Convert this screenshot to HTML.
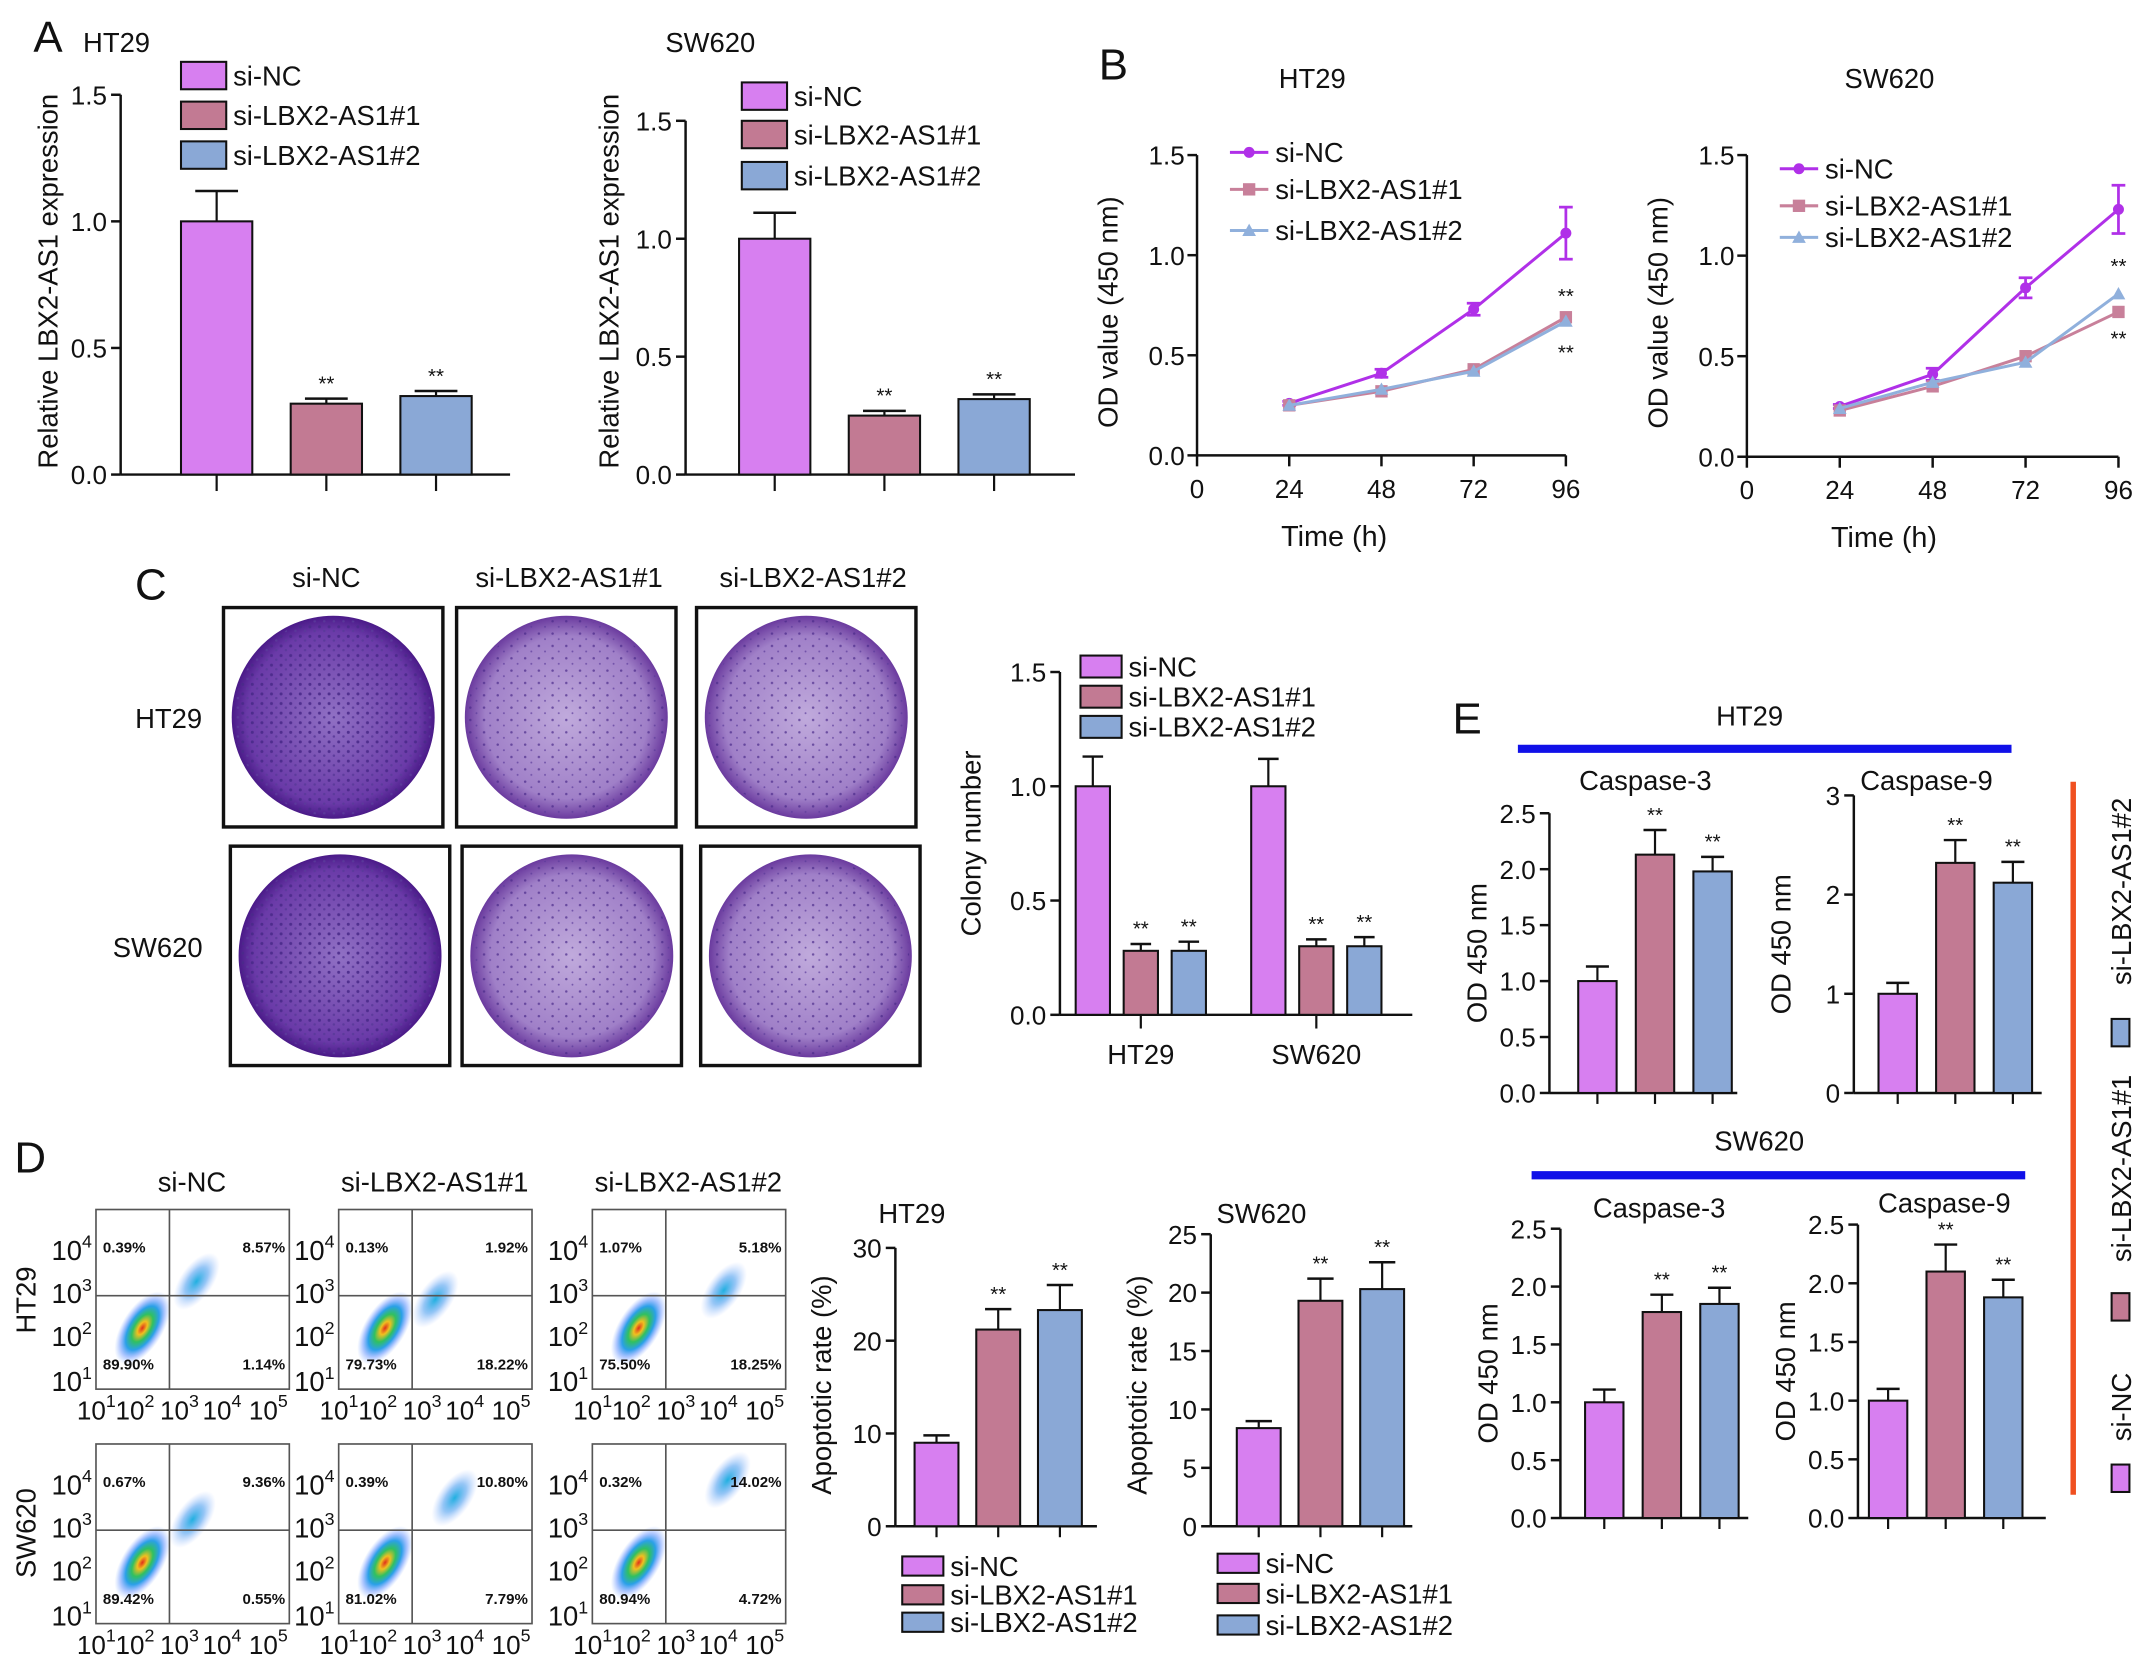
<!DOCTYPE html>
<html><head><meta charset="utf-8"><style>
html,body{margin:0;padding:0;background:#fff}
svg{display:block}
text{font-family:"Liberation Sans",Arial,sans-serif;fill:#111}
</style></head><body>
<svg id="fig" width="2150" height="1669" viewBox="0 0 1568 1217" xmlns="http://www.w3.org/2000/svg">
<defs>
<radialGradient id="dens" cx="50%" cy="50%" r="50%">
<stop offset="0" stop-color="#e0301a"/><stop offset="0.18" stop-color="#f0c020"/><stop offset="0.38" stop-color="#30c060"/><stop offset="0.6" stop-color="#2aa0e8"/><stop offset="0.8" stop-color="#6090ff" stop-opacity="0.5"/><stop offset="1" stop-color="#8ab0ff" stop-opacity="0"/>
</radialGradient>
<radialGradient id="dens2" cx="50%" cy="50%" r="50%">
<stop offset="0" stop-color="#20b0e0"/><stop offset="0.5" stop-color="#50a0f0" stop-opacity="0.6"/><stop offset="1" stop-color="#9ab8ff" stop-opacity="0"/>
</radialGradient>
<radialGradient id="plate" cx="50%" cy="50%" r="50%">
<stop offset="0" stop-color="#c0aadc"/><stop offset="0.8" stop-color="#a080c8"/><stop offset="1" stop-color="#6a3a9e"/>
</radialGradient>
<radialGradient id="plateD" cx="50%" cy="50%" r="50%">
<stop offset="0" stop-color="#9070c4"/><stop offset="0.85" stop-color="#6a3aa8"/><stop offset="1" stop-color="#4a1a88"/>
</radialGradient>
<pattern id="dots" width="7" height="7" patternUnits="userSpaceOnUse"><circle cx="2" cy="2" r="1.1" fill="#4a2a8a"/><circle cx="5.5" cy="5" r="0.9" fill="#5a3a9a"/></pattern>
<pattern id="dotsS" width="10" height="9" patternUnits="userSpaceOnUse"><circle cx="3" cy="3" r="0.9" fill="#4a2a8a"/><circle cx="7.5" cy="7" r="0.7" fill="#5a3a9a"/></pattern>
</defs>
<g id="root"></g>
</svg>
<script>
// ---------- data ----------
const groups = ["si-NC","si-LBX2-AS1#1","si-LBX2-AS1#2"];
const aHT29Vals = [1.0,0.28,0.31];
const aHT29Errs = [0.12,0.02,0.02];
const aSWVals = [1.0,0.25,0.32];
const aSWErrs = [0.11,0.02,0.02];
const timePoints = [24,48,72,96];
const bHTNC = [0.26,0.41,0.73,1.11];
const bHTNCErr = [0.01,0.02,0.03,0.13];
const bHT1 = [0.25,0.32,0.43,0.69];
const bHT2 = [0.25,0.33,0.42,0.67];
const bSWNC = [0.25,0.41,0.84,1.23];
const bSWNCErr = [0.01,0.03,0.05,0.12];
const bSW1 = [0.23,0.35,0.50,0.72];
const bSW2 = [0.24,0.37,0.47,0.81];
const colonyCats = ["HT29","SW620"];
const colonyHT = [1.0,0.28,0.28];
const colonyHTErr = [0.13,0.03,0.04];
const colonySW = [1.0,0.30,0.30];
const colonySWErr = [0.12,0.03,0.04];
const apoHT = [9.0,21.2,23.3];
const apoHTErr = [0.8,2.2,2.7];
const apoSW = [8.4,19.3,20.3];
const apoSWErr = [0.6,1.9,2.3];
const c3HT = [1.0,2.13,1.98];
const c3HTErr = [0.13,0.22,0.13];
const c9HT = [1.0,2.32,2.12];
const c9HTErr = [0.11,0.23,0.21];
const c3SW = [1.0,1.78,1.85];
const c3SWErr = [0.11,0.15,0.14];
const c9SW = [1.0,2.10,1.88];
const c9SWErr = [0.1,0.23,0.15];
const flowHT = [["0.39%","8.57%","89.90%","1.14%"],["0.13%","1.92%","79.73%","18.22%"],["1.07%","5.18%","75.50%","18.25%"]];
const flowSW = [["0.67%","9.36%","89.42%","0.55%"],["0.39%","10.80%","81.02%","7.79%"],["0.32%","14.02%","80.94%","4.72%"]];

const FILL = ["#d77ff0","#c27a93","#8aa8d6"];
const LINEC = ["#b030e8","#c8809a","#90b0dc"];
const NS = "http://www.w3.org/2000/svg";
const root = document.getElementById("root");
function el(tag, attrs, parent, txt){
  const e = document.createElementNS(NS, tag);
  for (const k in attrs) e.setAttribute(k, attrs[k]);
  if (txt !== undefined) e.textContent = txt;
  (parent||root).appendChild(e);
  return e;
}
function grp(name){
  const g = el("g", {});
  
  
  return g;
}
function txt(g, x, y, s, size, anchor, name, rot){
  const t = el("text", {x:x, y:y, "font-size":size, "text-anchor":anchor||"middle"}, g, s);
  if (rot) t.setAttribute("transform", `rotate(${rot} ${x} ${y})`);
  
  
  return t;
}

function barChart(o){
  const g = grp(o.name);
  const sy = v => o.y0 - (v / o.max) * (o.y0 - o.yTop);
  el("line", {x1:o.ax, y1:o.yTop, x2:o.ax, y2:o.y0, stroke:"#111","stroke-width":1.8}, g);
  el("line", {x1:o.ax, y1:o.y0, x2:o.xEnd, y2:o.y0, stroke:"#111","stroke-width":1.8}, g);
  o.ticks.forEach((t,i)=>{
    const y = sy(t);
    el("line",{x1:o.ax-7,y1:y,x2:o.ax,y2:y,stroke:"#111","stroke-width":1.8},g);
    txt(g, o.ax-10, y+7, o.tickLabels[i], o.fs||19, "end", "y-tick-label");
  });
  o.series.forEach((vals, si)=>{
    vals.forEach((v,i)=>{
      const cx = o.cx(si,i);
      const yv = sy(v), ye = sy(v + o.errs[si][i]);
      el("line",{x1:cx,y1:yv,x2:cx,y2:ye,stroke:"#111","stroke-width":1.6},g);
      el("line",{x1:cx-o.bw*0.3,y1:ye,x2:cx+o.bw*0.3,y2:ye,stroke:"#111","stroke-width":1.8},g);
      const r = el("rect",{x:cx-o.bw/2,y:yv,width:o.bw,height:o.y0-yv,fill:FILL[i],stroke:"#111","stroke-width":1.5},g);
      
      
      if (i>0) txt(g, cx, ye-6, "**", 15, "middle", "significance-mark");
      if (o.catTicks) el("line",{x1:cx,y1:o.y0,x2:cx,y2:o.y0+o.catTicks,stroke:"#111","stroke-width":1.6},g);
    });
  });
  return {g, sy};
}
function legend(g, x, ys, fs, bw, bh){
  groups.forEach((n,i)=>{
    const lg = el("g",{},g);
    
    
    el("rect",{x:x,y:ys[i]-bh/2,width:bw,height:bh,fill:FILL[i],stroke:"#111","stroke-width":1.5},lg);
    txt(lg, x+bw+5, ys[i]+fs*0.36, n, fs, "start", "legend-label");
  });
}

// ---------- Panel A ----------
(function(){
  const P = grp("panel-a");
  txt(P, 35, 38, "A", 32, "middle", "panel-letter-a");
  let c = barChart({name:"chart-a-ht29", ax:88, y0:346, yTop:69, max:1.5, xEnd:372,
    ticks:[0,0.5,1,1.5], tickLabels:["0.0","0.5","1.0","1.5"], series:[aHT29Vals], errs:[aHT29Errs],
    bw:52, cx:(s,i)=>158+i*80, catTicks:12});
  P.appendChild(c.g);
  txt(c.g, 85, 38, "HT29", 20, "middle", "chart-title");
  txt(c.g, 42, 205, "Relative LBX2-AS1 expression", 20, "middle", "y-axis-title", -90);
  legend(c.g, 132, [55,84,113], 20, 33, 20);
  c = barChart({name:"chart-a-sw620", ax:500, y0:346, yTop:88, max:1.5, xEnd:784,
    ticks:[0,0.5,1,1.5], tickLabels:["0.0","0.5","1.0","1.5"], series:[aSWVals], errs:[aSWErrs],
    bw:52, cx:(s,i)=>565+i*80, catTicks:12});
  P.appendChild(c.g);
  txt(c.g, 518, 38, "SW620", 20, "middle", "chart-title");
  txt(c.g, 451, 205, "Relative LBX2-AS1 expression", 20, "middle", "y-axis-title", -90);
  legend(c.g, 541, [70,98,128], 20, 33, 20);
})();

// ---------- Panel B ----------
function lineChart(name, ax, y0, yTop, xEnd, seriesArr, ncErr, title, titleX, legYs, starsY){
  const g = grp(name);
  const sx = t => ax + t/96*(xEnd-ax);
  const sy = v => y0 - v/1.5*(y0-yTop);
  el("line",{x1:ax,y1:yTop,x2:ax,y2:y0,stroke:"#111","stroke-width":1.8},g);
  el("line",{x1:ax,y1:y0,x2:xEnd,y2:y0,stroke:"#111","stroke-width":1.8},g);
  [0,0.5,1,1.5].forEach((t,i)=>{
    el("line",{x1:ax-7,y1:sy(t),x2:ax,y2:sy(t),stroke:"#111","stroke-width":1.8},g);
    txt(g, ax-9, sy(t)+7, ["0.0","0.5","1.0","1.5"][i], 19, "end", "y-tick-label");
  });
  [0].concat(timePoints).forEach(t=>{
    el("line",{x1:sx(t),y1:y0,x2:sx(t),y2:y0+8,stroke:"#111","stroke-width":1.8},g);
    txt(g, sx(t), y0+31, String(t), 19, "middle", "x-tick-label");
  });
  txt(g, ax+100, y0+66, "Time (h)", 21, "middle", "x-axis-title");
  txt(g, ax-58, (y0+yTop)/2+5, "OD value (450 nm)", 20, "middle", "y-axis-title", -90);
  txt(g, titleX, 64, title, 20, "middle", "chart-title");
  seriesArr.forEach((vals,si)=>{
    const pts = vals.map((v,i)=>sx(timePoints[i])+","+sy(v)).join(" ");
    const pl = el("polyline",{points:pts,fill:"none",stroke:LINEC[si],"stroke-width":2.2},g);
    
    
    vals.forEach((v,i)=>{
      const x=sx(timePoints[i]), y=sy(v);
      if (si===0){
        const e=ncErr[i];
        el("line",{x1:x,y1:sy(v-e),x2:x,y2:sy(v+e),stroke:LINEC[0],"stroke-width":2},g);
        el("line",{x1:x-5,y1:sy(v-e),x2:x+5,y2:sy(v-e),stroke:LINEC[0],"stroke-width":2},g);
        el("line",{x1:x-5,y1:sy(v+e),x2:x+5,y2:sy(v+e),stroke:LINEC[0],"stroke-width":2},g);
        el("circle",{cx:x,cy:y,r:4,fill:LINEC[0]},g);
      } else if (si===1) el("rect",{x:x-4.5,y:y-4.5,width:9,height:9,fill:LINEC[1]},g);
      else el("polygon",{points:`${x},${y-5} ${x-5},${y+4} ${x+5},${y+4}`,fill:LINEC[2]},g);
    });
  });
  txt(g, xEnd, starsY[0], "**", 15, "middle", "significance-mark");
  txt(g, xEnd, starsY[1], "**", 15, "middle", "significance-mark");
  groups.forEach((n,i)=>{
    const x=ax+24, y=legYs[i];
    el("line",{x1:x,y1:y,x2:x+28,y2:y,stroke:LINEC[i],"stroke-width":2.2},g);
    if(i===0) el("circle",{cx:x+14,cy:y,r:4,fill:LINEC[0]},g);
    else if(i===1) el("rect",{x:x+9.5,y:y-4.5,width:9,height:9,fill:LINEC[1]},g);
    else el("polygon",{points:`${x+14},${y-5} ${x+9},${y+4} ${x+19},${y+4}`,fill:LINEC[2]},g);
    txt(g, x+33, y+7, n, 20, "start", "legend-label-"+n);
  });
  return g;
}
(function(){
  const P = grp("panel-b");
  txt(P, 812, 58, "B", 32, "middle", "panel-letter-b");
  P.appendChild(lineChart("chart-b-ht29", 873, 332, 113, 1142, [bHTNC,bHT1,bHT2], bHTNCErr, "HT29", 957, [111,138,168], [221,262]));
  P.appendChild(lineChart("chart-b-sw620", 1274, 333, 113, 1545, [bSWNC,bSW1,bSW2], bSWNCErr, "SW620", 1378, [123,150,173], [199,252]));
})();

// ---------- Panel C ----------
(function(){
  const P = grp("panel-c");
  txt(P, 110, 437, "C", 32, "middle", "panel-letter-c");
  const boxes = [[163,443],[333,443],[508,443],[168,617],[337,617],[511,617]];
  ["si-NC","si-LBX2-AS1#1","si-LBX2-AS1#2"].forEach((n,i)=>txt(P, [238,415,593][i], 428, n, 20, "middle", "column-label"));
  txt(P, 123, 531, "HT29", 20, "middle", "row-label");
  txt(P, 115, 698, "SW620", 20, "middle", "row-label");
  boxes.forEach((b,i)=>{
    const g = el("g",{},P);
    
    
    el("rect",{x:b[0],y:b[1],width:160,height:160,fill:"#fff",stroke:"#111","stroke-width":2.5},g);
    const dark = (i%3===0);
    el("circle",{cx:b[0]+80,cy:b[1]+80,r:74,fill:dark?"url(#plateD)":"url(#plate)"},g);
    el("circle",{cx:b[0]+80,cy:b[1]+80,r:72,fill:dark?"url(#dots)":"url(#dotsS)",opacity:dark?0.9:0.7},g);
  });
  const c = barChart({name:"chart-c-colony", ax:773, y0:740, yTop:490, max:1.5, xEnd:1030,
    ticks:[0,0.5,1,1.5], tickLabels:["0.0","0.5","1.0","1.5"], series:[colonyHT,colonySW], errs:[colonyHTErr,colonySWErr],
    bw:25, cx:(s,i)=>797+s*128+i*35, catNames:colonyCats});
  P.appendChild(c.g);
  colonyCats.forEach((n,i)=>{
    el("line",{x1:832+i*128,y1:740,x2:832+i*128,y2:750,stroke:"#111","stroke-width":1.6},c.g);
    txt(c.g, 832+i*128, 776, n, 20, "middle", "x-tick-label");
  });
  txt(c.g, 715, 615, "Colony number", 20, "middle", "y-axis-title", -90);
  legend(c.g, 788, [486,508,530], 20, 30, 16);
})();

// ---------- Panel D ----------
(function(){
  const P = grp("panel-d");
  txt(P, 22, 855, "D", 32, "middle", "panel-letter-d");
  const cols = [70,247,432];
  ["si-NC","si-LBX2-AS1#1","si-LBX2-AS1#2"].forEach((n,i)=>txt(P, cols[i]+70, 869, n, 20, "middle", "column-label"));
  txt(P, 26, 948, "HT29", 20, "middle", "row-label", -90);
  txt(P, 26, 1118, "SW620", 20, "middle", "row-label", -90);
  const rows = [[882,1013,flowHT],[1053,1184,flowSW]];
  rows.forEach((r,ri)=>{
    cols.forEach((x0,ci)=>{
      const g = el("g",{},P);
      
      
      const y0=r[0], y1=r[1], w=141, h=y1-y0;
      el("rect",{x:x0,y:y0,width:w,height:h,fill:"#fff",stroke:"#555","stroke-width":1.2},g);
      const mx = x0+w*0.24, my = y0+h*0.66;
      el("ellipse",{cx:mx,cy:my,rx:30,ry:15,fill:"url(#dens)",transform:`rotate(-58 ${mx} ${my})`},g);
      let sx, sy2;
      if (ri===0){ sx = ci===0?0.52:ci===1?0.5:0.68; sy2 = ci===0?0.4:ci===1?0.5:0.45; }
      else { sx = ci===0?0.5:ci===1?0.6:0.7; sy2 = ci===0?0.42:ci===1?0.3:0.2; }
      const ex=x0+w*sx, ey=y0+h*sy2;
      el("ellipse",{cx:ex,cy:ey,rx:24,ry:12,fill:"url(#dens2)",transform:`rotate(-55 ${ex} ${ey})`},g);
      const vx=x0+w*0.38, hy=y0+h*0.48;
      el("line",{x1:vx,y1:y0,x2:vx,y2:y1,stroke:"#555","stroke-width":1.2},g);
      el("line",{x1:x0,y1:hy,x2:x0+w,y2:hy,stroke:"#555","stroke-width":1.2},g);
      const q = r[2][ci];
      const pt = [[x0+5,y0+h*0.24,"start"],[x0+w-3,y0+h*0.24,"end"],[x0+5,y0+h*0.89,"start"],[x0+w-3,y0+h*0.89,"end"]];
      pt.forEach((p,k)=>{ const t=txt(g,p[0],p[1],q[k],11,p[2],"quadrant-percent"); t.setAttribute("font-weight","bold"); });
      [0.22,0.46,0.7,0.95].forEach((f,k)=>{
        const t = txt(g, x0-3, y0+h*f+8, "10", 20, "end", "y-tick-label");
        el("tspan",{dy:-9,"font-size":13},t,String(4-k));
      });
      [0.03,0.23,0.46,0.68,0.92].forEach((f,k)=>{
        const t = txt(g, x0+w*f-4, y1+22, "10", 19, "middle", "x-tick-label");
        el("tspan",{dy:-9,"font-size":13},t,String(k+1));
      });
    });
  });
  const h = barChart({name:"chart-d-apoptosis-ht29", ax:653, y0:1113, yTop:910, max:30, xEnd:800,
    ticks:[0,10,20,30], tickLabels:["0","10","20","30"], series:[apoHT], errs:[apoHTErr],
    bw:32, cx:(s,i)=>683+i*45, catTicks:8});
  P.appendChild(h.g);
  txt(h.g, 665, 892, "HT29", 20, "middle", "chart-title");
  txt(h.g, 606, 1010, "Apoptotic rate (%)", 20, "middle", "y-axis-title", -90);
  legend(h.g, 658, [1142,1163,1183], 20, 30, 14);
  const s = barChart({name:"chart-d-apoptosis-sw620", ax:883, y0:1113, yTop:900, max:25, xEnd:1030,
    ticks:[0,5,10,15,20,25], tickLabels:["0","5","10","15","20","25"], series:[apoSW], errs:[apoSWErr],
    bw:32, cx:(s,i)=>918+i*45, catTicks:8});
  P.appendChild(s.g);
  txt(s.g, 920, 892, "SW620", 20, "middle", "chart-title");
  txt(s.g, 836, 1010, "Apoptotic rate (%)", 20, "middle", "y-axis-title", -90);
  legend(s.g, 888, [1140,1162,1185], 20, 30, 14);
})();

// ---------- Panel E ----------
(function(){
  const P = grp("panel-e");
  txt(P, 1070, 535, "E", 32, "middle", "panel-letter-e");
  txt(P, 1276, 529, "HT29", 20, "middle", "group-title");
  el("line",{x1:1107,y1:546,x2:1467,y2:546,stroke:"#1010e8","stroke-width":6},P);
  txt(P, 1283, 839, "SW620", 20, "middle", "group-title");
  el("line",{x1:1117,y1:857,x2:1477,y2:857,stroke:"#1010e8","stroke-width":6},P);
  const cfg = [
    {n:"chart-e-ht29-caspase3", ax:1130, y0:797, yTop:593, max:2.5, ticks:[0,0.5,1,1.5,2,2.5], tl:["0.0","0.5","1.0","1.5","2.0","2.5"], v:c3HT, e:c3HTErr, c0:1165, t:"Caspase-3", tx:1200, ty:576},
    {n:"chart-e-ht29-caspase9", ax:1352, y0:797, yTop:580, max:3, ticks:[0,1,2,3], tl:["0","1","2","3"], v:c9HT, e:c9HTErr, c0:1384, t:"Caspase-9", tx:1405, ty:576},
    {n:"chart-e-sw620-caspase3", ax:1138, y0:1107, yTop:896, max:2.5, ticks:[0,0.5,1,1.5,2,2.5], tl:["0.0","0.5","1.0","1.5","2.0","2.5"], v:c3SW, e:c3SWErr, c0:1170, t:"Caspase-3", tx:1210, ty:888},
    {n:"chart-e-sw620-caspase9", ax:1355, y0:1107, yTop:893, max:2.5, ticks:[0,0.5,1,1.5,2,2.5], tl:["0.0","0.5","1.0","1.5","2.0","2.5"], v:c9SW, e:c9SWErr, c0:1377, t:"Caspase-9", tx:1418, ty:884}
  ];
  cfg.forEach(c=>{
    const ch = barChart({name:c.n, ax:c.ax, y0:c.y0, yTop:c.yTop, max:c.max, xEnd:c.ax+137,
      ticks:c.ticks, tickLabels:c.tl, series:[c.v], errs:[c.e], bw:28, cx:(s,i)=>c.c0+i*42, catTicks:8});
    P.appendChild(ch.g);
    txt(ch.g, c.tx, c.ty, c.t, 20, "middle", "chart-title");
    txt(ch.g, c.ax-46, (c.y0+c.yTop)/2, "OD 450 nm", 20, "middle", "y-axis-title", -90);
  });
  el("line",{x1:1512,y1:570,x2:1512,y2:1090,stroke:"#f05020","stroke-width":4},P);
  const lg = [[1077,1026,"si-NC"],[952,852,"si-LBX2-AS1#1"],[752,650,"si-LBX2-AS1#2"]];
  lg.forEach((l,i)=>{
    const g = el("g",{},P);
    
    
    el("rect",{x:1540,y:l[0]-9,width:13,height:20,fill:FILL[i],stroke:"#111","stroke-width":1.5},g);
    txt(g, 1554, l[1], l[2], 20, "middle", "legend-label", -90);
  });
})();
</script>
</body></html>
